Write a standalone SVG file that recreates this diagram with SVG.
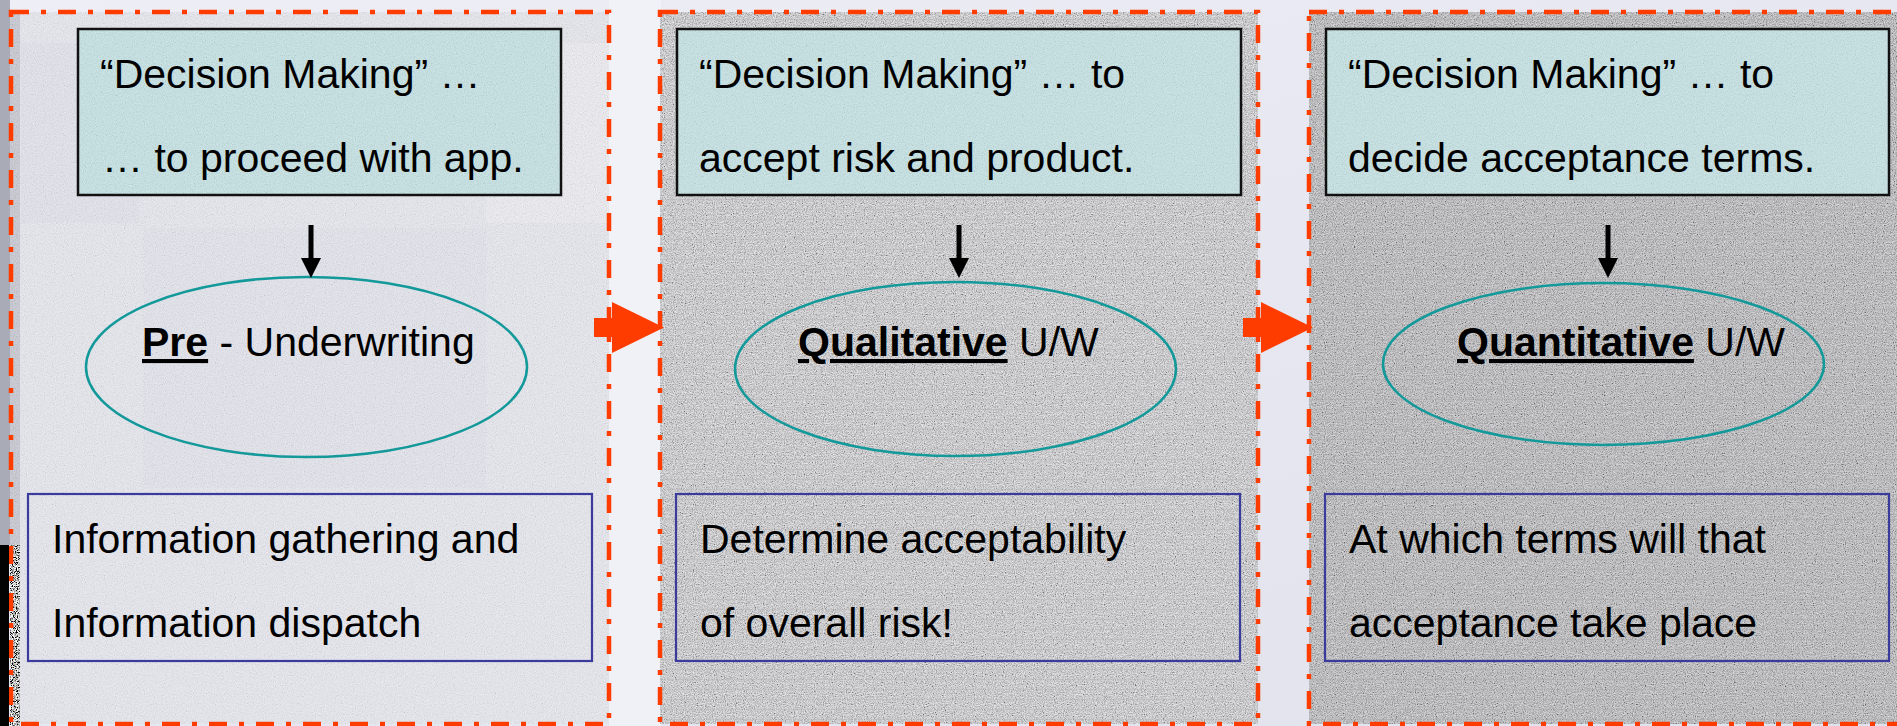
<svg xmlns="http://www.w3.org/2000/svg" width="1897" height="726" viewBox="0 0 1897 726">
  <defs>
    <style>
      .txt { font-family: "Liberation Sans", Arial, sans-serif; font-size: 41px; fill: #000; }
      .b { font-weight: bold; text-decoration: underline; }
      .frame { fill: none; stroke: #ff3c00; stroke-width: 4.5; stroke-dasharray: 18 12 5 12; }
      .head { stroke: #111; stroke-width: 2.5; }
      .oval { fill: none; stroke: #13999a; stroke-width: 2.5; }
      .note { fill: none; stroke: #3b3b9c; stroke-width: 2.2; }
      .down { fill: #000; }
      .block { fill: #ff3c00; }
    </style>
    <!-- fine grey grain used on the panels and boxes -->
    <filter id="grain" x="0" y="0" width="100%" height="100%">
      <feTurbulence type="fractalNoise" baseFrequency="0.9" numOctaves="2" seed="5" result="n"/>
      <feColorMatrix in="n" type="matrix" values="1.6 0 0 0 -0.3  1.6 0 0 0 -0.3  1.6 0 0 0 -0.3  0 0 0 0 0.45"/>
      <feComposite in2="SourceGraphic" operator="in"/>
    </filter>
    <filter id="grainSoft" x="0" y="0" width="100%" height="100%">
      <feTurbulence type="fractalNoise" baseFrequency="0.9" numOctaves="2" seed="9" result="n"/>
      <feColorMatrix in="n" type="matrix" values="1.4 0 0 0 -0.2  1.4 0 0 0 -0.2  1.4 0 0 0 -0.2  0 0 0 0 0.15"/>
      <feComposite in2="SourceGraphic" operator="in"/>
    </filter>
    <filter id="stipple" x="0" y="0" width="100%" height="100%">
      <feTurbulence type="fractalNoise" baseFrequency="1.2" numOctaves="1" seed="2" result="n"/>
      <feColorMatrix in="n" type="matrix" values="4 0 0 0 -1.5  4 0 0 0 -1.5  4 0 0 0 -1.5  0 0 0 0 1"/>
      <feComposite in2="SourceGraphic" operator="in"/>
    </filter>
    <pattern id="lines" width="10" height="10" patternUnits="userSpaceOnUse">
      <rect x="0" y="9" width="10" height="1" fill="#000" opacity="0.05"/>
    </pattern>
    <linearGradient id="bg" x1="0" y1="0" x2="1" y2="1">
      <stop offset="0" stop-color="#eeeef6"/>
      <stop offset="0.5" stop-color="#e6e7f0"/>
      <stop offset="1" stop-color="#e1e2ec"/>
    </linearGradient>
  </defs>

  <!-- slide background -->
  <rect x="0" y="0" width="1897" height="726" fill="url(#bg)"/>
  <rect x="609" y="0" width="52" height="726" fill="#f3f3f9" opacity="0.8"/>
  <rect x="0" y="0" width="10" height="545" fill="#a9abb6"/>
  <rect x="10" y="12" width="10" height="533" fill="#c9cad3"/>
  <rect x="10" y="12" width="10" height="533" fill="#fff" filter="url(#grainSoft)"/>
  <rect x="10" y="545" width="10" height="181" fill="#fff" filter="url(#stipple)"/>

  <!-- panel 1 -->
  <g id="panel-pre">
    <rect x="20" y="12" width="589" height="712" fill="#e8e8f0"/>
    <rect x="21" y="43" width="118" height="180" fill="#d9d9e6" opacity="0.25"/>
    <rect x="143" y="228" width="343" height="260" fill="#dcdce8" opacity="0.25"/>
    <rect x="486" y="43" width="123" height="180" fill="#f4f4f8" opacity="0.4"/>
    <rect x="20" y="12" width="589" height="712" fill="#fff" filter="url(#grainSoft)"/>
    <rect class="frame" x="11" y="12" width="598" height="712"/>
  </g>
  <!-- dark strip along the lower left edge, drawn over the frame -->
  <rect x="0" y="545" width="9" height="181" fill="#030303"/>

  <!-- panel 2 -->
  <g id="panel-qual">
    <rect x="660" y="12" width="598" height="712" fill="#d6d6da"/>
    <rect x="660" y="12" width="598" height="712" fill="#fff" filter="url(#grain)"/>
    <rect x="660" y="12" width="598" height="712" fill="url(#lines)"/>
    <rect class="frame" x="660" y="12" width="598" height="712"/>
  </g>

  <!-- panel 3 -->
  <g id="panel-quant">
    <rect x="1309" y="12" width="600" height="712" fill="#bcbcc0"/>
    <rect x="1309" y="12" width="600" height="712" fill="#fff" filter="url(#grain)"/>
    <rect x="1309" y="12" width="600" height="712" fill="url(#lines)"/>
    <rect class="frame" x="1309" y="12" width="600" height="712"/>
  </g>

  <!-- decision boxes -->
  <g id="decision-1">
    <rect x="78" y="29" width="483" height="166" fill="#c6e3e5"/>
    <rect x="78" y="29" width="483" height="166" fill="#fff" filter="url(#grainSoft)"/>
    <rect class="head" x="78" y="29" width="483" height="166" fill="none"/>
    <text class="txt" x="100" y="88">“Decision Making” …</text>
    <text class="txt" x="102" y="172">… to proceed with app.</text>
  </g>
  <g id="decision-2">
    <rect x="677" y="29" width="564" height="166" fill="#c6e3e5"/>
    <rect x="677" y="29" width="564" height="166" fill="#fff" filter="url(#grainSoft)"/>
    <rect class="head" x="677" y="29" width="564" height="166" fill="none"/>
    <text class="txt" x="699" y="88">“Decision Making” … to</text>
    <text class="txt" x="699" y="172">accept risk and product.</text>
  </g>
  <g id="decision-3">
    <rect x="1326" y="29" width="563" height="166" fill="#c6e3e5"/>
    <rect x="1326" y="29" width="563" height="166" fill="#fff" filter="url(#grainSoft)"/>
    <rect class="head" x="1326" y="29" width="563" height="166" fill="none"/>
    <text class="txt" x="1348" y="88">“Decision Making” … to</text>
    <text class="txt" x="1348" y="172">decide acceptance terms.</text>
  </g>

  <!-- stage ovals -->
  <g id="stage-pre">
    <ellipse class="oval" cx="306.5" cy="367" rx="220.5" ry="90"/>
    <text class="txt" x="142" y="356"><tspan class="b">Pre</tspan> - Underwriting</text>
  </g>
  <g id="stage-qual">
    <ellipse class="oval" cx="955.5" cy="369" rx="220.5" ry="87"/>
    <text class="txt" x="798" y="356"><tspan class="b">Qualitative</tspan> U/W</text>
  </g>
  <g id="stage-quant">
    <ellipse class="oval" cx="1603.5" cy="364" rx="220.5" ry="81"/>
    <text class="txt" x="1457" y="356"><tspan class="b">Quantitative</tspan> U/W</text>
  </g>

  <!-- descriptions -->
  <g id="desc-1">
    <rect class="note" x="28" y="494" width="564" height="167"/>
    <text class="txt" x="52" y="553">Information gathering and</text>
    <text class="txt" x="52" y="637">Information dispatch</text>
  </g>
  <g id="desc-2">
    <rect class="note" x="676" y="494" width="564" height="167"/>
    <text class="txt" x="700" y="553">Determine acceptability</text>
    <text class="txt" x="700" y="637">of overall risk!</text>
  </g>
  <g id="desc-3">
    <rect class="note" x="1325" y="494" width="564" height="167"/>
    <text class="txt" x="1349" y="553">At which terms will that</text>
    <text class="txt" x="1349" y="637">acceptance take place</text>
  </g>

  <!-- connectors -->
  <g id="connectors">
    <path class="down" d="M308.5 225 H313.5 V258 H321 L311 278 L301 258 H308.5 Z"/>
    <path class="down" d="M956.5 225 H961.5 V258 H969 L959 278 L949 258 H956.5 Z"/>
    <path class="down" d="M1605.5 225 H1610.5 V258 H1618 L1608 278 L1598 258 H1605.5 Z"/>
    <path class="block" d="M594 318 H612 V302 L664 327.5 L612 353 V337 H594 Z"/>
    <path class="block" d="M1243 318 H1261 V302 L1313 327.5 L1261 353 V337 H1243 Z"/>
  </g>
</svg>
